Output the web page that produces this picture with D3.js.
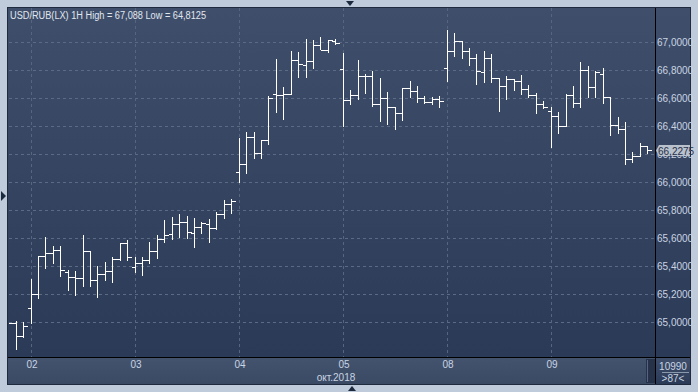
<!DOCTYPE html>
<html>
<head>
<meta charset="utf-8">
<script src="https://cdn.jsdelivr.net/npm/d3@7"></script>
<style>
  html, body { margin: 0; padding: 0; background: #bfcbdb; }
  svg { display: block; }
  text { font-family: "Liberation Sans", Arial, sans-serif; }
</style>
</head>
<body>
<svg id="chart" width="698" height="392"></svg>
<script>
// USD/RUB(LX) hourly bars, 1 - 9 Oct 2018
var opens  = [65.009, 64.993, 64.900, 65.100, 65.204, 65.474, 65.495, 65.514, 65.359, 65.321,
              65.314, 65.507, 65.300, 65.343, 65.366, 65.450, 65.566, 65.393, 65.421, 65.445,
              65.509, 65.593, 65.631, 65.700, 65.714, 65.638, 65.679, 65.702, 65.671, 65.774,
              65.845, 66.071, 66.129, 66.321, 66.207, 66.300, 66.631, 66.621, 66.629, 66.871,
              66.836, 66.864, 66.979, 66.947, 67.007, 66.807, 66.586, 66.621, 66.757, 66.757,
              66.557, 66.600, 66.538, 66.493, 66.671, 66.650, 66.600, 66.571, 66.595, 66.814,
              66.938, 67.007, 66.940, 66.886, 66.786, 66.890, 66.745, 66.686, 66.738, 66.721,
              66.669, 66.621, 66.557, 66.507, 66.471, 66.404, 66.626, 66.569, 66.804, 66.679,
              66.774, 66.609, 66.407, 66.379, 66.169, 66.188, 66.261];
var highs  = [65.031, 65.009, 65.002, 65.307, 65.476, 65.609, 65.543, 65.543, 65.371, 65.364,
              65.626, 65.507, 65.402, 65.431, 65.464, 65.566, 65.588, 65.464, 65.464, 65.574,
              65.621, 65.731, 65.754, 65.774, 65.759, 65.743, 65.714, 65.738, 65.791, 65.874,
              65.881, 66.316, 66.357, 66.357, 66.300, 66.614, 66.881, 66.681, 66.938, 66.929,
              67.024, 67.016, 67.036, 67.014, 67.024, 66.924, 66.657, 66.874, 66.774, 66.793,
              66.745, 66.645, 66.538, 66.671, 66.721, 66.686, 66.614, 66.609, 66.616, 67.088,
              67.066, 67.007, 66.961, 66.916, 66.936, 66.916, 66.745, 66.759, 66.738, 66.766,
              66.693, 66.640, 66.583, 66.540, 66.500, 66.631, 66.686, 66.859, 66.831, 66.797,
              66.816, 66.609, 66.464, 66.431, 66.214, 66.279, 66.261];
var lows   = [64.974, 64.8125, 64.897, 64.997, 65.176, 65.390, 65.426, 65.333, 65.233, 65.197,
              65.261, 65.261, 65.183, 65.302, 65.290, 65.443, 65.447, 65.361, 65.340, 65.426,
              65.461, 65.576, 65.597, 65.611, 65.604, 65.540, 65.640, 65.576, 65.664, 65.747,
              65.783, 66.004, 66.069, 66.176, 66.176, 66.276, 66.504, 66.454, 66.629, 66.754,
              66.754, 66.819, 66.950, 66.929, 66.986, 66.404, 66.561, 66.597, 66.640, 66.547,
              66.438, 66.419, 66.383, 66.447, 66.611, 66.576, 66.566, 66.561, 66.540, 66.726,
              66.902, 66.890, 66.838, 66.702, 66.719, 66.719, 66.509, 66.597, 66.659, 66.633,
              66.611, 66.497, 66.529, 66.254, 66.354, 66.400, 66.540, 66.540, 66.611, 66.611,
              66.564, 66.340, 66.350, 66.133, 66.147, 66.188, 66.207];
var closes = [64.993, 64.900, 64.971, 65.200, 65.474, 65.495, 65.514, 65.371, 65.321, 65.314,
              65.507, 65.300, 65.343, 65.364, 65.450, 65.566, 65.464, 65.421, 65.445, 65.509,
              65.593, 65.621, 65.700, 65.714, 65.645, 65.679, 65.711, 65.671, 65.774, 65.845,
              65.864, 66.129, 66.321, 66.207, 66.300, 66.604, 66.621, 66.629, 66.871, 66.843,
              66.864, 66.979, 66.947, 67.014, 66.993, 66.586, 66.621, 66.757, 66.757, 66.557,
              66.600, 66.538, 66.493, 66.671, 66.650, 66.600, 66.571, 66.595, 66.579, 66.938,
              67.007, 66.940, 66.886, 66.793, 66.890, 66.745, 66.686, 66.738, 66.721, 66.669,
              66.621, 66.557, 66.540, 66.471, 66.404, 66.626, 66.569, 66.804, 66.679, 66.788,
              66.609, 66.407, 66.379, 66.169, 66.188, 66.261, 66.2275];

var dayLabels = ["02", "03", "04", "05", "08", "09"];
var dayStarts = [3, 17, 31, 45, 59, 73];   // bar index of first hour of each day
var priceTicks = [65.0, 65.2, 65.4, 65.6, 65.8, 66.0, 66.2, 66.4, 66.6, 66.8, 67.0];
var lastPrice = 66.2275;
var titleText = "USD/RUB(LX) 1H High = 67,088 Low = 64,8125";
var monthText = "окт.2018";
var volText = "10990";
var barsText = ">87<";

var svg = d3.select("#chart");

// panel geometry
var plotL = 8, plotR = 655, plotT = 8, plotB = 357;
var axisR = 690, axisB = 384;

var defs = svg.append("defs");
var grad = defs.append("linearGradient").attr("id", "bg").attr("x1", 0).attr("y1", 0).attr("x2", 0).attr("y2", 1);
grad.append("stop").attr("offset", "0%").attr("stop-color", "#3f4f6b");
grad.append("stop").attr("offset", "100%").attr("stop-color", "#2b3a56");
var grad2 = defs.append("linearGradient").attr("id", "bg2").attr("x1", 0).attr("y1", 0).attr("x2", 0).attr("y2", 1);
grad2.append("stop").attr("offset", "0%").attr("stop-color", "#43536e");
grad2.append("stop").attr("offset", "100%").attr("stop-color", "#3a4a65");
defs.append("clipPath").attr("id", "plotclip")
    .append("rect").attr("x", plotL + 1).attr("y", plotT).attr("width", plotR - plotL - 1).attr("height", plotB - plotT);

// outer frame and little arrows
svg.append("rect").attr("width", 698).attr("height", 392).attr("fill", "#bfcbdb");
svg.append("path").attr("d", "M346,1 L354,1 L350,6 Z").attr("fill", "#1c2a40");
svg.append("path").attr("d", "M348,391 L356,391 L352,386 Z").attr("fill", "#1c2a40");
svg.append("path").attr("d", "M1,191 L1,201 L6,196 Z").attr("fill", "#1c2a40");

// panels
svg.append("rect").attr("x", plotL - 1).attr("y", plotT - 1).attr("width", axisR - plotL + 2).attr("height", axisB - plotT + 2)
    .attr("fill", "#1e2a3e");
svg.append("rect").attr("x", plotL).attr("y", plotT).attr("width", axisR - plotL).attr("height", plotB - plotT)
    .attr("fill", "url(#bg)");
svg.append("rect").attr("x", plotL).attr("y", plotB + 1).attr("width", plotR - plotL).attr("height", axisB - plotB - 1)
    .attr("fill", "url(#bg2)");
svg.append("rect").attr("x", plotR + 1).attr("y", plotB + 1).attr("width", axisR - plotR - 1).attr("height", axisB - plotB - 1)
    .attr("fill", "url(#bg)");
// scroll thumb in time axis
svg.append("rect").attr("x", 646).attr("y", plotB + 2).attr("width", 9).attr("height", axisB - plotB - 3).attr("fill", "#25324a");
svg.append("line").attr("x1", 647.5).attr("x2", 647.5).attr("y1", plotB + 3).attr("y2", axisB - 2)
    .attr("stroke", "#55657e");

// scales
var idx = d3.range(opens.length);
var x = d3.scaleBand().domain(idx).range([4.6, 4.6 + 7.43 * opens.length]);
var y = d3.scaleLinear().domain([65, 67]).range([322.3, 42.3]);
var cx = function(i) { return Math.round(x(i) + x.bandwidth() / 2) + 0.5; };
var py = function(v) { return Math.round(y(v)) + 0.5; };
var half = 4;
var fmt = function(v) { return d3.format(".4f")(v).replace(".", ","); };

// grid
var gridG = svg.append("g").attr("shape-rendering", "crispEdges");
gridG.selectAll("line.h").data(priceTicks).join("line")
    .attr("x1", plotL + 1).attr("x2", plotR)
    .attr("y1", d => py(d)).attr("y2", d => py(d))
    .attr("stroke", "#5b6b86").attr("stroke-dasharray", "3,3");
gridG.selectAll("line.v").data(dayStarts).join("line")
    .attr("x1", d => cx(d)).attr("x2", d => cx(d))
    .attr("y1", plotT).attr("y2", plotB)
    .attr("stroke", "#56667f").attr("stroke-dasharray", "3,3");

// OHLC bars
var bars = svg.append("g").attr("clip-path", "url(#plotclip)")
    .attr("stroke", "#ffffff").attr("stroke-width", 1).attr("fill", "none")
    .attr("shape-rendering", "crispEdges");
var bar = bars.selectAll("g").data(idx).join("g");
bar.append("line")
    .attr("x1", d => cx(d)).attr("x2", d => cx(d))
    .attr("y1", d => py(highs[d]) - 0.5).attr("y2", d => py(lows[d]) + 0.5);
bar.append("line")
    .attr("x1", d => cx(d) - half).attr("x2", d => cx(d))
    .attr("y1", d => py(opens[d])).attr("y2", d => py(opens[d]));
bar.append("line")
    .attr("x1", d => cx(d)).attr("x2", d => cx(d) + half)
    .attr("y1", d => py(closes[d])).attr("y2", d => py(closes[d]));

// separators
svg.append("line").attr("x1", plotR + 0.5).attr("x2", plotR + 0.5).attr("y1", plotT).attr("y2", axisB)
    .attr("stroke", "#000000");
svg.append("line").attr("x1", plotL).attr("x2", axisR).attr("y1", plotB + 0.5).attr("y2", plotB + 0.5)
    .attr("stroke", "#000000");

// price axis
var yAxis = d3.axisRight(y).tickValues(priceTicks).tickFormat(fmt).tickSize(0).tickPadding(1);
var yg = svg.append("g").attr("transform", "translate(" + (plotR + 1) + ",0)").call(yAxis);
yg.select(".domain").remove();
yg.selectAll("text").attr("fill", "#c9d4e3").attr("font-size", "10px")
    .attr("font-family", "'Liberation Sans', Arial, sans-serif");

// last price marker (drawn over the 66,2000 label, as in the terminal)
var ly = py(lastPrice);
svg.append("path")
    .attr("d", "M" + (plotR + 1) + "," + ly + " L" + (plotR + 4) + "," + (ly - 5.5) + " L" + (axisR) + "," + (ly - 5.5) +
               " L" + axisR + "," + (ly + 5.5) + " L" + (plotR + 4) + "," + (ly + 5.5) + " Z")
    .attr("fill", "#b9c1cc");
svg.append("text").attr("x", plotR + 3).attr("y", ly + 4)
    .attr("font-size", "10px").attr("fill", "#24304a").text(fmt(lastPrice));

// time axis
var xAxis = d3.axisBottom(d3.scaleLinear().domain([0, 1]).range([0, 1]))
    .tickValues(dayStarts.map(cx)).tickFormat((d, i) => dayLabels[i]).tickSize(0).tickPadding(3);
var xg = svg.append("g").attr("transform", "translate(0," + (plotB + 1) + ")").call(xAxis);
xg.select(".domain").remove();
xg.selectAll("text").attr("fill", "#c9d4e3").attr("font-size", "10px")
    .attr("font-family", "'Liberation Sans', Arial, sans-serif");
svg.append("text").attr("x", 336).attr("y", 380.5).attr("text-anchor", "middle")
    .attr("font-size", "10px").attr("fill", "#c9d4e3").text(monthText);

// bottom right box
svg.append("text").attr("x", 673).attr("y", 370).attr("text-anchor", "middle")
    .attr("font-size", "10px").attr("fill", "#c9d4e3").text(volText);
svg.append("line").attr("x1", 662).attr("x2", 689).attr("y1", 372.5).attr("y2", 372.5).attr("stroke", "#8a98ae");
svg.append("text").attr("x", 673).attr("y", 382).attr("text-anchor", "middle")
    .attr("font-size", "10px").attr("fill", "#c9d4e3").text(barsText);

// title
svg.append("text").attr("x", 10).attr("y", 18.5)
    .attr("font-size", "10px").attr("textLength", 196).attr("lengthAdjust", "spacingAndGlyphs")
    .attr("fill", "#e1e7ef").text(titleText);
</script>
</body>
</html>
